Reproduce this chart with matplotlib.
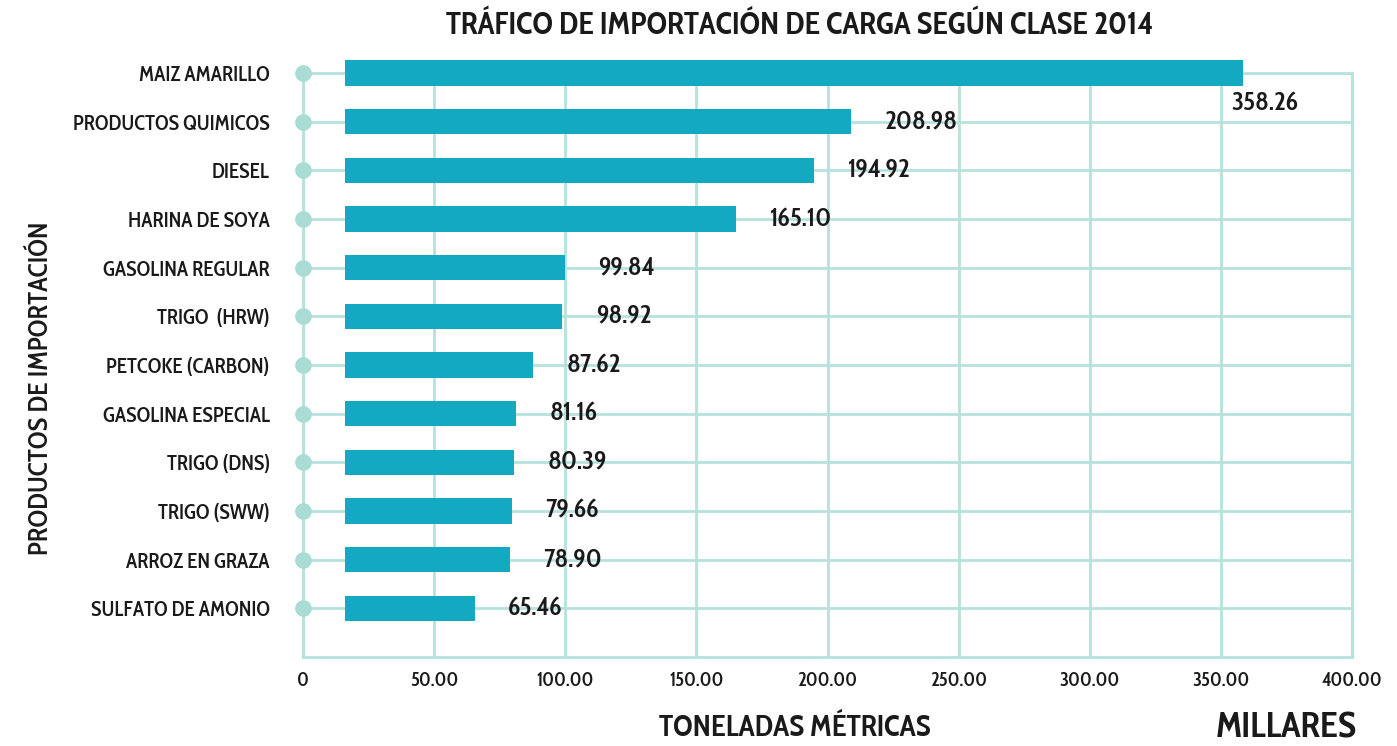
import matplotlib.pyplot as plt
import numpy as np

# datos (miles de toneladas métricas)
productos = ["MAIZ AMARILLO", "PRODUCTOS QUIMICOS", "DIESEL", "HARINA DE SOYA",
             "GASOLINA REGULAR", "TRIGO  (HRW)", "PETCOKE (CARBON)", "GASOLINA ESPECIAL",
             "TRIGO (DNS)", "TRIGO (SWW)", "ARROZ EN GRAZA", "SULFATO DE AMONIO"]
valores = [358.26, 208.98, 194.92, 165.10, 99.84, 98.92, 87.62, 81.16, 80.39, 79.66, 78.90, 65.46]
ticks_x = [0, 50, 100, 150, 200, 250, 300, 350, 400]
ticks_x_lbl = ["0", "50.00", "100.00", "150.00", "200.00", "250.00", "300.00", "350.00", "400.00"]
inicio_barra = 16

plt.rcParams['font.family'] = ['Cabin Condensed', 'DejaVu Sans']
plt.rcParams['font.weight'] = 600

color_barra = "#13a9c1"
color_grid = "#b5e2dc"
color_txt = "#1a1a1a"

fig = plt.figure(figsize=(13.97, 7.46), dpi=100)
ax = fig.add_axes([0.2169, 0.1193, 0.7509, 0.7828])

y = np.arange(len(productos))
ax.barh(y, np.array(valores) - inicio_barra, left=inicio_barra, height=0.52,
        color=color_barra, zorder=3, clip_on=False)

# puntos en el eje
ax.plot(np.zeros(len(y)), y, 'o', color="#aadcd5", markersize=11, zorder=4, clip_on=False)

ax.set_xlim(0, 400)
ax.set_ylim(len(productos), 0)
ax.set_xticks(ticks_x)
ax.set_xticklabels(ticks_x_lbl, fontsize=14, color=color_txt)
ax.set_yticks(y)
ax.set_yticklabels(productos, fontsize=15, color=color_txt)
ax.tick_params(axis='both', length=0)
ax.tick_params(axis='y', pad=24)
ax.tick_params(axis='x', pad=10)

ax.grid(True, color=color_grid, linewidth=2, zorder=0)
ax.set_axisbelow(True)
for s in ax.spines.values():
    s.set_color(color_grid)
    s.set_linewidth(2)

# etiquetas de valor
for i, v in enumerate(valores):
    if i == 0:
        ax.annotate(f"{v:.2f}", (v, i + 0.62), xytext=(16, 0), textcoords='offset points',
                    ha='center', va='center', fontsize=19, color=color_txt, zorder=5)
    else:
        ax.annotate(f"{v:.2f}", (v, i), xytext=(24, 0), textcoords='offset points',
                    ha='left', va='center', fontsize=19, color=color_txt, zorder=5)

fig.text(0.572, 0.965, "TRÁFICO DE IMPORTACIÓN DE CARGA SEGÚN CLASE 2014",
         ha='center', va='center', fontsize=22.5, fontweight='bold', color=color_txt)
fig.text(0.029, 0.48, "PRODUCTOS DE IMPORTACIÓN", rotation=90, ha='center', va='center',
         fontsize=19.5, color=color_txt)
fig.text(0.569, 0.024, "TONELADAS MÉTRICAS", ha='center', va='center',
         fontsize=21.5, fontweight='bold', color=color_txt)
fig.text(0.921, 0.024, "MILLARES", ha='center', va='center',
         fontsize=26, fontweight='bold', color=color_txt)

fig.savefig("out.png", dpi=100)
